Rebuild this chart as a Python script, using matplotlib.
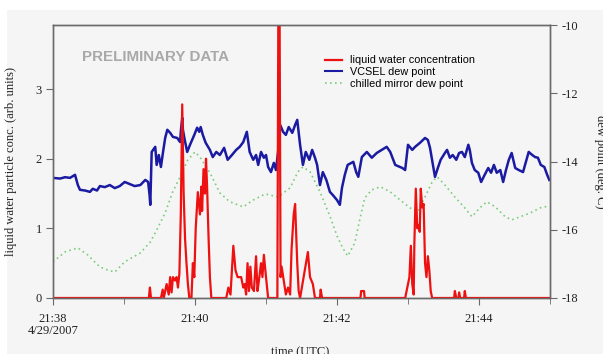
import matplotlib
matplotlib.use("Agg")
import matplotlib.pyplot as plt
from matplotlib.patches import Rectangle
from matplotlib.lines import Line2D

plt.rcParams['axes.unicode_minus'] = False

# ---- data (time in minutes after 21:38 UTC) ----
lwc_t = [0.00, 1.35, 1.365, 1.38, 1.52, 1.545, 1.56, 1.60, 1.63, 1.65, 1.67, 1.69, 1.72,
         1.74, 1.76, 1.78, 1.80, 1.82, 1.84, 1.86, 1.88, 1.90, 1.92, 1.95, 1.97, 1.99,
         2.01, 2.04, 2.07, 2.09, 2.10, 2.12, 2.14, 2.155, 2.17, 2.19, 2.21, 2.23, 2.44,
         2.47, 2.50, 2.54, 2.57, 2.60, 2.65, 2.68, 2.70, 2.72, 2.74, 2.76, 2.78, 2.80,
         2.83, 2.86, 2.88, 2.90, 2.93, 2.95, 2.97, 3.00, 3.03, 3.16, 3.175, 3.19, 3.205,
         3.22, 3.25, 3.28, 3.31, 3.34, 3.36, 3.39, 3.41, 3.44, 3.46, 3.48, 3.59, 3.62,
         3.66, 3.69, 3.76, 3.77, 3.79, 4.33, 4.34, 4.38, 4.39, 4.96, 4.98, 5.00, 5.02,
         5.04, 5.06, 5.08, 5.09, 5.11, 5.13, 5.15, 5.165, 5.18, 5.20, 5.22, 5.24, 5.26,
         5.28, 5.30, 5.32, 5.34, 5.65, 5.66, 5.68, 5.71, 5.72, 5.735, 5.79, 5.80, 5.815,
         7.00]
lwc_v = [0.00, 0.00, 0.15, 0.00, 0.00, 0.12, 0.00, 0.20, 0.05, 0.30, 0.08, 0.30, 0.25,
         0.30, 0.15, 0.35, 1.20, 2.78, 1.50, 0.85, 0.50, 0.20, 0.00, 0.00, 0.50, 0.30,
         1.00, 1.52, 1.20, 1.60, 1.25, 1.85, 1.50, 2.00, 1.60, 0.90, 0.30, 0.00, 0.00,
         0.15, 0.05, 0.75, 0.40, 0.30, 0.30, 0.15, 0.20, 0.05, 0.50, 0.10, 0.45, 0.15,
         0.10, 0.60, 0.10, 0.25, 0.50, 0.30, 0.62, 0.30, 0.00, 0.00, 4.50, 4.50, 0.30,
         0.45, 0.25, 0.05, 0.15, 0.05, 0.70, 1.20, 1.35, 0.50, 0.10, 0.00, 0.66, 0.30,
         0.20, 0.00, 0.00, 0.12, 0.00, 0.00, 0.10, 0.10, 0.00, 0.00, 0.10, 0.20, 0.30,
         0.75, 0.20, 0.05, 0.80, 1.57, 1.00, 1.05, 0.95, 1.57, 1.30, 1.35, 0.50, 0.30,
         0.60, 0.40, 0.10, 0.00, 0.00, 0.10, 0.00, 0.00, 0.08, 0.00, 0.00, 0.10, 0.00,
         0.00]

vcsel_t = [0.00, 0.10, 0.17, 0.24, 0.31, 0.35, 0.38, 0.45, 0.52, 0.56, 0.62, 0.66, 0.73,
           0.80, 0.87, 0.94, 1.01, 1.08, 1.15, 1.23,
           1.30, 1.34, 1.36, 1.37, 1.39, 1.44, 1.46, 1.49, 1.52, 1.55, 1.58, 1.61, 1.65,
           1.69, 1.75, 1.79, 1.80, 1.82, 1.83, 1.85, 1.89, 1.93, 1.99, 2.03, 2.06, 2.08,
           2.11, 2.15, 2.21, 2.25, 2.30, 2.35, 2.41, 2.46, 2.52, 2.58, 2.63, 2.68, 2.73,
           2.77, 2.82, 2.86, 2.89, 2.93, 2.97, 3.00, 3.03, 3.07, 3.11, 3.14, 3.17, 3.20,
           3.24, 3.28, 3.32, 3.37, 3.41, 3.44,
           3.48, 3.52, 3.56, 3.61, 3.65, 3.69, 3.72, 3.76, 3.80, 3.85, 3.90, 3.94, 4.00,
           4.04, 4.07, 4.11, 4.15, 4.23, 4.27, 4.30, 4.35, 4.42, 4.49, 4.56, 4.63, 4.70,
           4.75, 4.82, 4.92, 4.96, 5.00, 5.06, 5.10, 5.17, 5.24, 5.28, 5.31, 5.38, 5.42,
           5.46, 5.52, 5.55, 5.59, 5.63, 5.68, 5.72, 5.76, 5.80, 5.85, 5.87, 5.90, 5.94,
           5.99, 6.03, 6.08, 6.13, 6.17, 6.21, 6.25, 6.30, 6.34, 6.38, 6.42, 6.46, 6.51,
           6.56, 6.62, 6.68, 6.70, 6.75, 6.79, 6.83, 6.87, 6.92, 6.96, 6.99]
vcsel_v = [-14.48, -14.50, -14.46, -14.48, -14.39, -14.69, -14.83, -14.85, -14.89, -14.80,
           -14.85, -14.72, -14.75, -14.69, -14.78, -14.72, -14.60, -14.66, -14.72, -14.69,
           -14.54, -14.60, -14.98, -15.27, -13.72, -13.57, -14.10, -13.81, -14.16, -13.72,
           -13.31, -13.07, -13.16, -13.28, -13.31, -13.43, -13.13, -12.72, -13.07, -13.31,
           -13.72, -13.51, -13.22, -13.01, -13.13, -12.99, -13.22, -13.45, -13.66, -13.87,
           -13.72, -13.81, -13.60, -13.95, -13.81, -13.66, -13.57, -13.43, -13.13, -13.72,
           -13.95, -13.81, -14.10, -13.72, -13.89, -13.81, -14.16, -14.31, -14.04, -14.25,
           -13.72, -12.93, -13.13, -13.22, -12.99, -13.16, -12.93, -12.78,
           -13.51, -14.10, -13.72, -13.95, -13.66, -13.89, -14.10, -14.69, -14.31, -14.54,
           -14.89, -14.98, -15.13, -15.27, -14.77, -14.39, -14.10, -14.01, -14.31, -14.45,
           -13.87, -13.72, -13.89, -13.75, -13.66, -13.57, -13.72, -14.10, -14.19, -14.25,
           -13.51, -13.66, -13.57, -13.45, -13.31, -13.37, -13.60, -14.45, -14.19,
           -13.95, -13.75, -13.66, -13.89, -13.81, -13.95, -13.75, -13.72, -13.87, -13.51,
           -13.66, -14.04, -14.25, -14.33, -14.60, -14.39, -14.19, -14.33, -14.10, -14.33,
           -14.25, -14.60, -14.25, -13.95, -13.75, -14.19, -14.25, -14.31, -13.87, -13.72,
           -13.81, -13.87, -13.89, -14.10, -14.16, -14.39, -14.54]

mirror_t = [0.00, 0.17, 0.35, 0.49, 0.66, 0.77, 0.87, 1.01, 1.23, 1.37, 1.44, 1.58, 1.68,
            1.79, 1.90, 2.00, 2.07, 2.21, 2.35, 2.49, 2.68, 2.82, 2.99, 3.17, 3.34, 3.45,
            3.52, 3.62, 3.76, 3.90, 4.00, 4.08, 4.15, 4.25, 4.32, 4.39, 4.49, 4.61, 4.75,
            4.89, 5.03, 5.13, 5.24, 5.34, 5.41, 5.52, 5.66, 5.80, 5.90, 6.01, 6.11, 6.23,
            6.37, 6.46, 6.58, 6.72, 6.86, 6.99]
mirror_v = [-16.94, -16.65, -16.53, -16.74, -17.09, -17.18, -17.24, -16.94, -16.68, -16.36,
            -16.09, -15.51, -14.92, -14.45, -13.95, -13.72, -13.87, -14.33, -14.92, -15.18,
            -15.33, -15.13, -14.95, -15.04, -14.77, -14.30, -14.16, -14.30, -14.89, -15.60,
            -16.18, -16.53, -16.77, -16.39, -15.71, -15.07, -14.83, -14.74, -14.89, -15.13,
            -15.36, -15.48, -15.04, -14.60, -14.45, -14.69, -15.04, -15.36, -15.62, -15.36,
            -15.18, -15.33, -15.62, -15.71, -15.62, -15.51, -15.36, -15.30]

major_ticks = [0, 2, 4, 6]
major_labels = ['21:38\n4/29/2007', '21:40', '21:42', '21:44']
minor_ticks = [1, 3, 5, 7]
left_ticks = [0, 1, 2, 3]
right_ticks = [-18, -16, -14, -12, -10]

RED = '#ee1111'
BLUE = '#1a1aa2'
GREEN = '#7ccc7c'
GRAY = '#6a6a6a'
BG = '#f5f5f5'
serif = 'Liberation Serif'

fig = plt.figure(figsize=(6.03, 3.54), dpi=100, facecolor=BG)
# white margins at left and top
fig.patches.append(Rectangle((0, 0), 7 / 603, 1, transform=fig.transFigure,
                             facecolor='white', edgecolor='none', zorder=-10))
fig.patches.append(Rectangle((0, 1 - 10 / 354), 1, 10 / 354, transform=fig.transFigure,
                             facecolor='white', edgecolor='none', zorder=-10))

ax = fig.add_axes([53 / 603, 1 - 298 / 354, 497 / 603, 273 / 354])
ax2 = ax.twinx()
ax.set_zorder(ax2.get_zorder() + 1)
ax.patch.set_visible(False)
ax2.patch.set_facecolor(BG)

ax2.plot(mirror_t, mirror_v, color=GREEN, lw=1.2, linestyle=(0, (1, 2)))
ax2.plot(vcsel_t, vcsel_v, color=BLUE, lw=1.8)
ax.plot(lwc_t, lwc_v, color=RED, lw=1.6)

ax.set_xlim(0, 7)
ax.set_ylim(0, 3.92)
ax2.set_ylim(-18, -10)

ax.set_xticks(major_ticks)
ax.set_xticklabels(major_labels)
ax.set_xticks(minor_ticks, minor=True)
ax.set_yticks(left_ticks)
ax2.set_yticks(right_ticks)

for a in (ax, ax2):
    for s in a.spines.values():
        s.set_color(GRAY)
        s.set_linewidth(1.0)
    a.tick_params(which='both', direction='out', color=GRAY, labelsize=9,
                  labelcolor='#222222')
ax.tick_params(axis='x', which='major', length=5, pad=6)
ax.tick_params(axis='x', which='minor', length=4)
ax.tick_params(axis='y', length=5, pad=3)
ax2.tick_params(axis='y', length=5, pad=3)
for lab in ax.get_xticklabels() + ax.get_yticklabels() + ax2.get_yticklabels():
    lab.set_fontfamily(serif)
    lab.set_linespacing(1.0)

ax.set_ylabel('liquid water particle conc. (arb. units)', family=serif, fontsize=9,
              color='#222222')
ax.yaxis.set_label_coords(-0.072, 0.5)
ax2.set_ylabel('dew point (deg. C)', family=serif, fontsize=9, rotation=270,
               va='center', color='#222222')
ax2.yaxis.set_label_coords(1.101, 0.5)
ax.set_xlabel('time (UTC)', family=serif, fontsize=9, va='center', color='#222222')
ax.xaxis.set_label_coords(0.497, -0.198)

ax.text(0.058, 0.883, 'PRELIMINARY DATA', transform=ax.transAxes, family='Liberation Sans',
        fontsize=10.9, fontweight='bold', color='#a9a9a9', va='center', ha='left')

handles = [Line2D([], [], color=RED, lw=1.6),
           Line2D([], [], color=BLUE, lw=1.5),
           Line2D([], [], color=GREEN, lw=1.2, linestyle=(0, (1, 2)))]
labels = ['liquid water concentration', 'VCSEL dew point', 'chilled mirror dew point']
ax.legend(handles, labels, loc='upper left', bbox_to_anchor=(0.547, 0.889), frameon=False,
          prop={'family': 'Liberation Sans', 'size': 7.8}, handlelength=1.6,
          handletextpad=0.75, labelspacing=0.15, borderpad=0, borderaxespad=0)

fig.savefig('out.png', dpi=100, facecolor=fig.get_facecolor())
